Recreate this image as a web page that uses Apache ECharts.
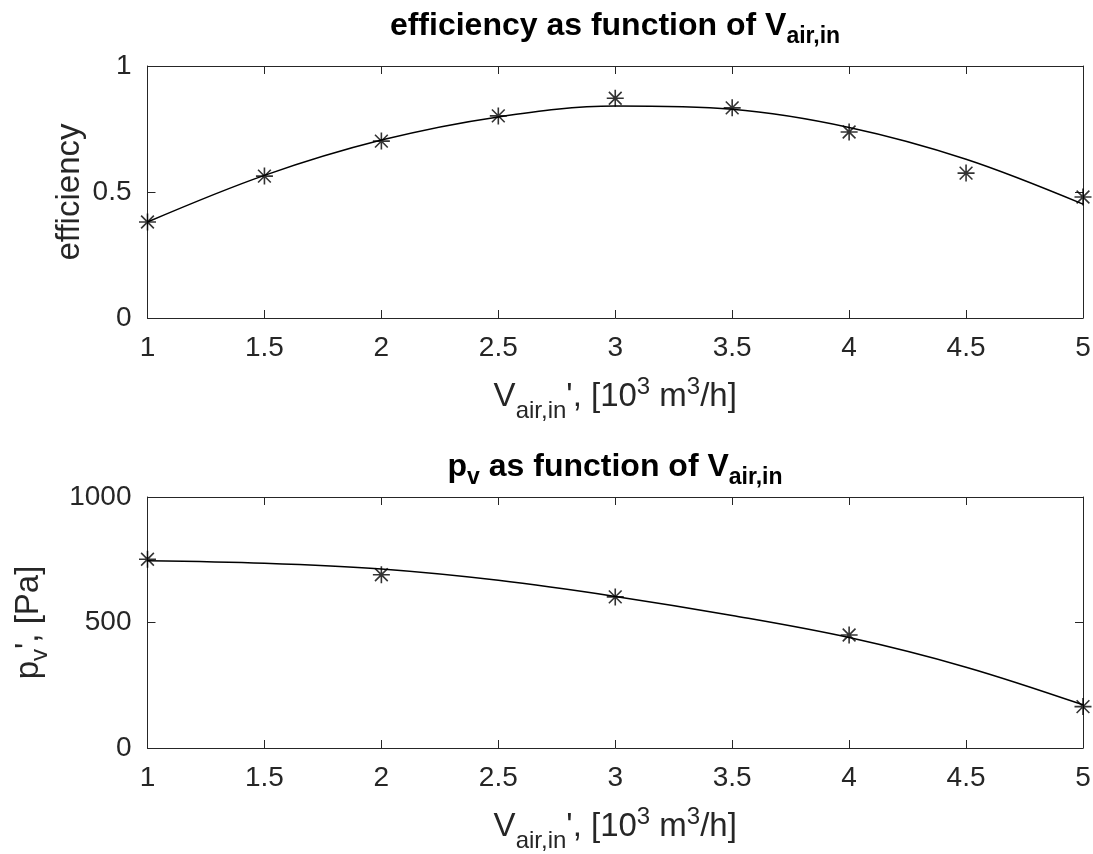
<!DOCTYPE html>
<html><head><meta charset="utf-8">
<script src="https://cdn.jsdelivr.net/npm/echarts@6/dist/echarts.min.js"></script>
<style>html,body{margin:0;padding:0;background:#fff}#c{width:1093px;height:854px}</style>
</head><body><div id="c"></div>
<script>
// ---- data ----
const xTickMin = 1, xTickMax = 5, xTickStep = 0.5;
const effX = [1, 1.5, 2, 2.5, 3, 3.5, 4, 4.5, 5];
const effMeasured = [0.381, 0.563, 0.702, 0.802, 0.872, 0.834, 0.738, 0.575, 0.48];
const effFitX = [1, 1.5, 2, 2.5, 3, 3.5, 4, 4.5, 5];
const effFit = [0.381, 0.566, 0.706, 0.798, 0.841, 0.828, 0.756, 0.630, 0.452];
const pvX = [1, 2, 3, 4, 5];
const pvMeasured = [752, 690, 602, 450, 165];
const pvFitX = [1, 1.5, 2, 2.5, 3, 3.5, 4, 4.5, 5];
const pvFit = [746, 736, 713, 668, 604, 528, 440, 322, 172];
const effTicks = [0, 1, 0.5];      // min, max, step
const pvTicks = [0, 1000, 500];

const AX = '#262626';
const FONT = '"Liberation Sans", Arial, Helvetica, sans-serif';
const STAR = 'path://M0,-10L0,10M-10,0L10,0M-7.5,-7.5L7.5,7.5M7.5,-7.5L-7.5,7.5';

const nameRich = {
  n: {fontSize: 33, fontFamily: FONT, color: AX, height: 40, lineHeight: 40, verticalAlign: 'top'},
  s: {fontSize: 24, fontFamily: FONT, color: AX, height: 68, lineHeight: 68, verticalAlign: 'top'},
  s2: {fontSize: 24, fontFamily: FONT, color: AX, height: 62, lineHeight: 62, verticalAlign: 'top'},
  p: {fontSize: 24, fontFamily: FONT, color: AX, height: 20, lineHeight: 20, verticalAlign: 'top'}
};
const titleRich = {
  n: {fontSize: 32, fontWeight: 'bold', fontFamily: FONT, color: '#000', height: 40, lineHeight: 40, verticalAlign: 'top'},
  s: {fontSize: 23, fontWeight: 'bold', fontFamily: FONT, color: '#000', height: 62, lineHeight: 62, verticalAlign: 'top'}
};

const line = {show: true, onZero: false, lineStyle: {color: AX, width: 1}};
const tick = {show: true, inside: true, length: 8, lineStyle: {color: AX, width: 1}};
const fmt = v => String(v);

function xPair(gi, name) {
  return [
    {type: 'value', gridIndex: gi, min: xTickMin, max: xTickMax, interval: xTickStep, position: 'bottom',
     axisLine: line, axisTick: tick, splitLine: {show: false},
     axisLabel: {show: true, color: AX, fontSize: 28, fontFamily: FONT, margin: 16, showMinLabel: true, showMaxLabel: true, formatter: fmt, hideOverlap: false},
     name: name, nameLocation: 'middle', nameGap: 59, nameMoveOverlap: false, nameTextStyle: {rich: nameRich}},
    {type: 'value', gridIndex: gi, min: xTickMin, max: xTickMax, interval: xTickStep, position: 'top',
     axisLine: line, axisTick: tick, axisLabel: {show: false}, splitLine: {show: false}}
  ];
}
function yPair(gi, t, name, gap) {
  return [
    {type: 'value', gridIndex: gi, min: t[0], max: t[1], interval: t[2], position: 'left',
     axisLine: line, axisTick: tick, splitLine: {show: false},
     axisLabel: {show: true, color: AX, fontSize: 28, fontFamily: FONT, margin: 16, showMinLabel: true, showMaxLabel: true, formatter: fmt},
     name: name, nameLocation: 'middle', nameGap: gap, nameMoveOverlap: false, nameTextStyle: {rich: nameRich}},
    {type: 'value', gridIndex: gi, min: t[0], max: t[1], interval: t[2], position: 'right',
     axisLine: line, axisTick: tick, axisLabel: {show: false}, splitLine: {show: false}}
  ];
}

const xName = '{n|V}{s|air,in}{n|\', [10}{p|3}{n| m}{p|3}{n|/h]}';

const option = {
  animation: false,
  backgroundColor: '#fff',
  title: [
    {text: '{n|efficiency as function of V}{s|air,in}', left: 615, top: 6, textAlign: 'center', padding: 0,
     textStyle: {rich: titleRich}},
    {text: '{n|p}{s|v}{n| as function of V}{s|air,in}', left: 615, top: 447, textAlign: 'center', padding: 0,
     textStyle: {rich: titleRich}}
  ],
  grid: [
    {left: 147.5, top: 66, width: 935.5, height: 252, containLabel: false, outerBoundsMode: 'none'},
    {left: 147.5, top: 497, width: 935.5, height: 251, containLabel: false, outerBoundsMode: 'none'}
  ],
  xAxis: [...xPair(0, xName), ...xPair(1, xName)],
  yAxis: [...yPair(0, effTicks, '{n|efficiency}', 57.5), ...yPair(1, pvTicks, '{n|p}{s2|v}{n|\', [Pa]}', 76.5)],
  series: [
    {type: 'line', xAxisIndex: 0, yAxisIndex: 0, data: effFitX.map((x, i) => [x, effFit[i]]),
     smooth: 0.35, showSymbol: false, clip: false, silent: true, lineStyle: {color: '#000', width: 1.5}, z: 2},
    {type: 'scatter', xAxisIndex: 0, yAxisIndex: 0, data: effX.map((x, i) => [x, effMeasured[i]]),
     symbol: STAR, symbolSize: 17, clip: false, silent: true,
     itemStyle: {color: 'rgba(0,0,0,0)', borderColor: '#000', borderWidth: 1.6}, z: 3},
    {type: 'line', xAxisIndex: 2, yAxisIndex: 2, data: pvFitX.map((x, i) => [x, pvFit[i]]),
     smooth: 0.35, showSymbol: false, clip: false, silent: true, lineStyle: {color: '#000', width: 1.5}, z: 2},
    {type: 'scatter', xAxisIndex: 2, yAxisIndex: 2, data: pvX.map((x, i) => [x, pvMeasured[i]]),
     symbol: STAR, symbolSize: 17, clip: false, silent: true,
     itemStyle: {color: 'rgba(0,0,0,0)', borderColor: '#000', borderWidth: 1.6}, z: 3}
  ]
};
const chart = echarts.init(document.getElementById('c'), null, {renderer: 'canvas'});
chart.setOption(option);
</script></body></html>
